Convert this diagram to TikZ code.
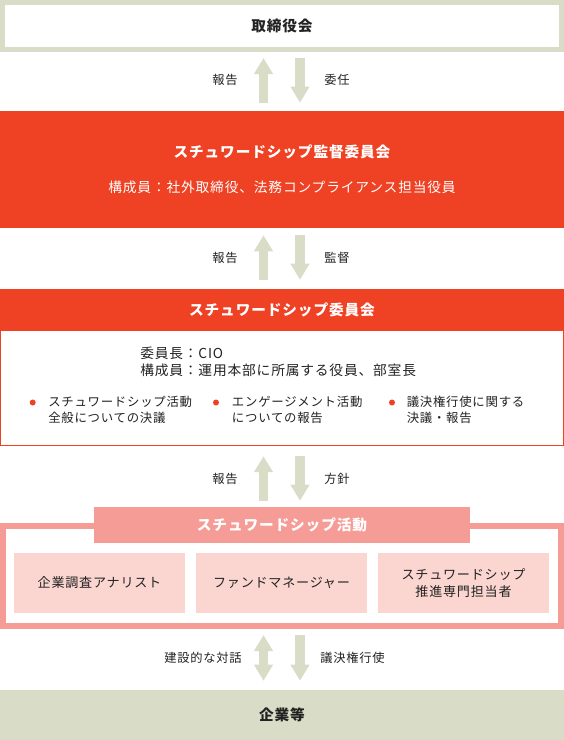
\documentclass[tikz,border=0pt]{standalone}
\usepackage{fontspec}
\setmainfont{Noto Sans CJK JP}[LetterSpace=6]
\usepackage{tikz}
\usetikzlibrary{arrows.meta}

\definecolor{stwgreen}{HTML}{D9DCC6}
\definecolor{stwred}{HTML}{EF4123}
\definecolor{stwpink}{HTML}{F59C97}
\definecolor{stwlight}{HTML}{FBD6D0}
\definecolor{stwtext}{HTML}{222222}

\tikzset{
  box/.style={inner sep=0pt},
  titletext/.style={font=\fontsize{11pt}{13pt}\selectfont\bfseries},
  flowlabel/.style={font=\fontsize{9.2pt}{11pt}\selectfont},
  itemtext/.style={align=left, font=\fontsize{9.3pt}{12pt}\selectfont},
  unittext/.style={align=center, font=\fontsize{9.8pt}{13.3pt}\selectfont},
  dot/.style={circle, fill=stwred, inner sep=0pt, minimum size=4.5pt},
  flow/.style={line width=7pt, stwgreen, -{Triangle[width=13.5pt,length=12pt]}},
  twoflow/.style={line width=7pt, stwgreen, {Triangle[width=13.5pt,length=12pt]}-{Triangle[width=13.5pt,length=12pt]}}
}

\begin{document}
\begin{tikzpicture}[x=0.75pt, y=-0.75pt, inner sep=0pt, text=stwtext, font=\fontsize{10.3pt}{12pt}\selectfont]
\useasboundingbox (0,0) rectangle (564,740);
% boxes
\node[box, draw=stwgreen, line width=3.75pt, fill=white, minimum width=419.25pt, minimum height=35.25pt, titletext] (board) at (282,26) {取締役会};
\node[box, fill=stwred, minimum width=423pt, minimum height=87.75pt] (supv) at (282,169.5) {};
\node[box, fill=stwred, minimum width=423pt, minimum height=30.75pt, text=white, titletext] (comhead) at (282,309.5) {スチュワードシップ委員会};
\node[box, draw=stwred, line width=1.1pt, fill=white, minimum width=421.9pt, minimum height=86.25pt] (combody) at (282,388) {};
\node[box, draw=stwpink, line width=4.5pt, minimum width=418.5pt, minimum height=75pt] (frame) at (282,576) {};
\node[box, fill=stwpink, minimum width=282pt, minimum height=27pt, text=white, titletext] (acthead) at (282,525) {スチュワードシップ活動};
\node[box, fill=stwlight, minimum width=128.25pt, minimum height=45pt, unittext] (analyst) at (99.5,583) {企業調査アナリスト};
\node[box, fill=stwlight, minimum width=128.25pt, minimum height=45pt, unittext] (manager) at (281.5,583) {ファンドマネージャー};
\node[box, fill=stwlight, minimum width=128.25pt, minimum height=45pt, unittext] (officer) at (463.5,583) {スチュワードシップ\\推進専門担当者};
\node[box, fill=stwgreen, minimum width=423pt, minimum height=37.5pt, titletext] (firms) at (282,715) {企業等};
% texts in the boxes
\node[titletext, text=white] (supvtitle) at (282,152) {スチュワードシップ監督委員会};
\node[text=white] (supvmembers) at (282,187) {構成員：社外取締役、法務コンプライアンス担当役員};
\node[anchor=west] (chair) at (140,353.3) {委員長：CIO};
\node[anchor=west] (members) at (140,370.7) {構成員：運用本部に所属する役員、部室長};
\node[dot] (dot1) at (32.7,402.5) {};
\node[dot] (dot2) at (216,402.5) {};
\node[dot] (dot3) at (392,402.5) {};
\node[itemtext, anchor=west] (item1) at (48,410.3) {スチュワードシップ活動\\全般についての決議};
\node[itemtext, anchor=west] (item2) at (231.7,410.3) {エンゲージメント活動\\についての報告};
\node[itemtext, anchor=west] (item3) at (406.5,410.3) {議決権行使に関する\\決議・報告};
% arrows
\draw[flow, shorten <=6pt, shorten >=4.5pt] ([shift={(-18.5,0)}]supv.north) -- ([shift={(-18.5,0)}]board.south);
\draw[flow, shorten <=4.5pt, shorten >=6pt] ([shift={(18,0)}]board.south) -- ([shift={(18,0)}]supv.north);
\draw[flow, shorten <=6.75pt, shorten >=5.25pt] ([shift={(-18.5,0)}]comhead.north) -- ([shift={(-18.5,0)}]supv.south);
\draw[flow, shorten <=5.25pt, shorten >=6.75pt] ([shift={(18,0)}]supv.south) -- ([shift={(18,0)}]comhead.north);
\draw[flow, shorten <=4.5pt, shorten >=7.5pt] ([shift={(-18.5,0)}]acthead.north) -- ([shift={(-18.5,0)}]combody.south);
\draw[flow, shorten <=7.5pt, shorten >=4.5pt] ([shift={(18,0)}]combody.south) -- ([shift={(18,0)}]acthead.north);
\draw[twoflow, shorten <=6.75pt, shorten >=4.5pt] ([shift={(-18.5,0)}]firms.north) -- ([shift={(-18.5,0)}]frame.south);
\draw[flow, shorten <=4.5pt, shorten >=6.75pt] ([shift={(18,0)}]frame.south) -- ([shift={(18,0)}]firms.north);
% labels
\node[flowlabel, anchor=east] (report1) at (238,80) {報告};
\node[flowlabel, anchor=west] (entrust) at (324,80) {委任};
\node[flowlabel, anchor=east] (report2) at (238,258.3) {報告};
\node[flowlabel, anchor=west] (oversee) at (324,258.3) {監督};
\node[flowlabel, anchor=east] (report3) at (238,479.3) {報告};
\node[flowlabel, anchor=west] (policy) at (324,479.3) {方針};
\node[flowlabel, anchor=east] (dialogue) at (242,658.3) {建設的な対話};
\node[flowlabel, anchor=west] (voting) at (320,658.3) {議決権行使};
\end{tikzpicture}
\end{document}
